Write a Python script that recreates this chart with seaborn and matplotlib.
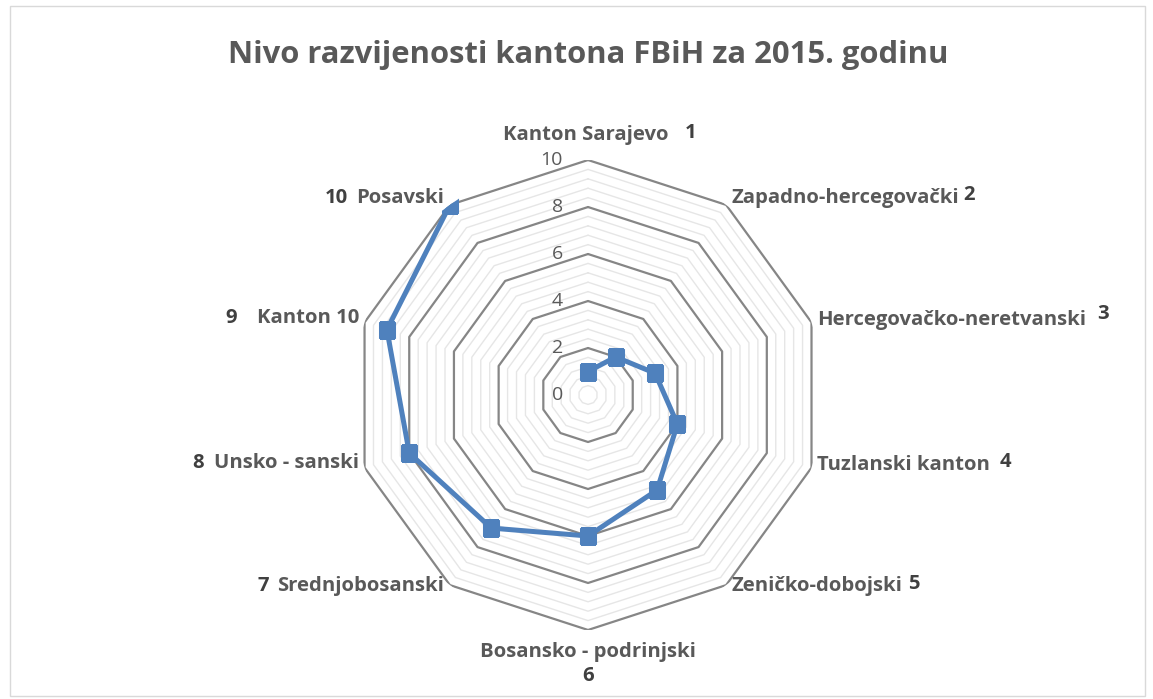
import numpy as np
import pandas as pd
import matplotlib
matplotlib.use("Agg")
import matplotlib.pyplot as plt
import seaborn as sns
from matplotlib.patches import Rectangle

# ---- data ----
categories = ["Kanton Sarajevo", "Zapadno-hercegovački", "Hercegovačko-neretvanski",
              "Tuzlanski kanton", "Zeničko-dobojski", "Bosansko - podrinjski",
              "Srednjobosanski", "Unsko - sanski", "Kanton 10", "Posavski"]
rank_labels = ["1", "2", "3", "4", "5", "6", "7", "8", "9", "10"]
values = [1, 2, 3, 4, 5, 6, 7, 8, 9, 10]
radial_ticks = [0, 2, 4, 6, 8, 10]
title = "Nivo razvijenosti kantona FBiH za 2015. godinu"

sns.set_theme(style="white")
plt.rcParams["font.family"] = ["Open Sans", "DejaVu Sans"]

GREY = "#595959"
DARK = "#404040"
BLUE = "#4F81BD"
LFS = 14.6

fig = plt.figure(figsize=(11.53, 6.99), dpi=100)
ax = fig.add_axes([0.3062, 0.0987, 0.4076, 0.6724], projection="polar")
ax.set_theta_zero_location("N")
ax.set_theta_direction(-1)

n = len(categories)
theta = np.linspace(0, 2 * np.pi, n, endpoint=False)

# polygon gridlines
grid_theta = np.append(theta, theta[0])
for r in np.arange(0.4, 10.01, 0.4):
    if abs(r / 2 - round(r / 2)) < 1e-6:
        continue
    ax.plot(grid_theta, [r] * (n + 1), color="#E6E6E6", lw=1.0, zorder=1)
for r in radial_ticks[1:]:
    ax.plot(grid_theta, [r] * (n + 1), color="#868686", lw=1.6, zorder=2)

df = pd.DataFrame({"theta": np.append(theta, theta[0]),
                   "value": values + [values[0]],
                   "order": np.arange(n + 1)})
sns.lineplot(data=df, x="theta", y="value", sort=False, ax=ax, color=BLUE,
             lw=3.6, marker="s", markersize=12, markeredgecolor=BLUE, zorder=5)

ax.set_ylim(0, 10)
ax.grid(False)
ax.spines["polar"].set_visible(False)
ax.set_xticks([])
ax.set_yticks([])
ax.set_xlabel("")
ax.set_ylabel("")
ax.patch.set_alpha(0)

# radial tick labels
for r in radial_ticks:
    ax.annotate(str(r), xy=(0, r), xycoords="data", xytext=(-18, 0),
                textcoords="offset points", ha="right", va="center",
                fontsize=14, color=GREY)

# per-label fine offsets (points): name dy, number gap, number dy
name_dy = [18, 5, 2, 2, -1, -16, -1, 3, 3, 5]
num_gap = [12, 3, 8, 7, 4, 0, 6, 7, 14, 6]
num_dy = [0, 2, 4, 2, 2, -3, 0, 0, 0, 0]

for i, (name, num) in enumerate(zip(categories, rank_labels)):
    ang = theta[i]
    s = np.sin(ang)
    kw = dict(fontsize=LFS, fontweight="bold")
    if i == 0:
        t = ax.annotate(name, xy=(ang, 10), xytext=(-2, name_dy[i]), textcoords="offset points",
                        ha="center", va="center", color=GREY, **kw)
        ax.annotate(num, xy=(1, 0.6), xycoords=t, xytext=(num_gap[i], num_dy[i]),
                    textcoords="offset points", ha="left", va="center", color=DARK, **kw)
    elif i == 5:
        t = ax.annotate(name, xy=(ang, 10), xytext=(0, name_dy[i]), textcoords="offset points",
                        ha="center", va="center", color=GREY, **kw)
        ax.annotate(num, xy=(0.5, 0), xycoords=t, xytext=(0, num_dy[i]),
                    textcoords="offset points", ha="center", va="top", color=DARK, **kw)
    elif s > 0:
        t = ax.annotate(name, xy=(ang, 10), xytext=(4, name_dy[i]), textcoords="offset points",
                        ha="left", va="center", color=GREY, **kw)
        ax.annotate(num, xy=(1, 0.5), xycoords=t, xytext=(num_gap[i], num_dy[i]),
                    textcoords="offset points", ha="left", va="center", color=DARK, **kw)
    else:
        t = ax.annotate(name, xy=(ang, 10), xytext=(-4, name_dy[i]), textcoords="offset points",
                        ha="right", va="center", color=GREY, **kw)
        ax.annotate(num, xy=(0, 0.5), xycoords=t, xytext=(-num_gap[i], num_dy[i]),
                    textcoords="offset points", ha="right", va="center", color=DARK, **kw)

fig.text(0.51, 0.922, title, ha="center", va="center", fontsize=22.3,
         fontweight="bold", color=GREY)

fig.patches.append(Rectangle((0.009, 0.004), 0.984, 0.988, transform=fig.transFigure,
                             fill=False, edgecolor="#D9D9D9", lw=1.0))

fig.savefig("out.png", dpi=100)
